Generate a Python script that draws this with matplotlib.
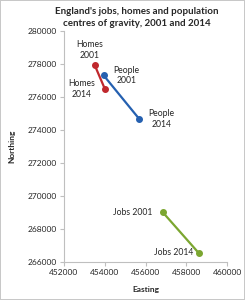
import matplotlib
matplotlib.use("Agg")
import matplotlib.pyplot as plt
from matplotlib.ticker import FormatStrFormatter

plt.rcParams['font.family'] = ['Lato', 'DejaVu Sans']

# data (easting, northing)
series_names = ["Homes", "People", "Jobs"]
years = ["2001", "2014"]
homes_e = [453500, 454000]
homes_n = [277950, 276500]
people_e = [453950, 455700]
people_n = [277300, 274650]
jobs_e = [456850, 458600]
jobs_n = [269000, 266550]
colors = ["#C0282D", "#2560B0", "#7BA630"]

x_ticks = [452000, 454000, 456000, 458000, 460000]
y_ticks = [266000, 268000, 270000, 272000, 274000, 276000, 278000, 280000]

fig = plt.figure(figsize=(2.45, 3.0), dpi=100, linewidth=1.2, edgecolor="#c8c8c8")
ax = fig.add_axes([0.261, 0.127, 0.666, 0.770])

data = [(homes_e, homes_n), (people_e, people_n), (jobs_e, jobs_n)]
for (e, n), c in zip(data, colors):
    ax.plot(e, n, color=c, lw=1.6, marker="o", ms=4, solid_capstyle="round")

fs = 6
afs = 6.2
tcol = "#262626"
# annotations: (series index, point index, label, offset px, ha)
ann = [
    (0, 0, "Homes\n2001", (-5, 15), "center"),
    (0, 1, "Homes\n2014", (-23, 0), "center"),
    (1, 0, "People\n2001", (23, 0), "center"),
    (1, 1, "People\n2014", (22, 0), "center"),
    (2, 0, "Jobs 2001", (-10, 0), "right"),
    (2, 1, "Jobs 2014", (-5, 0), "right"),
]
for si, pi, lab, off, ha in ann:
    e, n = data[si]
    ax.annotate(lab, (e[pi], n[pi]), xytext=off, textcoords="offset pixels",
                ha=ha, va="center", fontsize=afs, color=tcol, linespacing=1.25)

ax.set_xlim(x_ticks[0], x_ticks[-1])
ax.set_ylim(y_ticks[0], y_ticks[-1])
ax.set_xticks(x_ticks)
ax.set_yticks(y_ticks)
ax.xaxis.set_major_formatter(FormatStrFormatter("%d"))
ax.yaxis.set_major_formatter(FormatStrFormatter("%d"))
ax.tick_params(labelsize=fs, colors="#bfbfbf", labelcolor=tcol, length=3, width=0.8, pad=2)
for s in ["top", "right"]:
    ax.spines[s].set_visible(False)
for s in ["left", "bottom"]:
    ax.spines[s].set_color("#bfbfbf")
    ax.spines[s].set_linewidth(0.8)

ax.set_xlabel("Easting", fontsize=fs, fontweight="bold", color=tcol, labelpad=7)
ax.set_ylabel("Northing", fontsize=fs, fontweight="bold", color=tcol, labelpad=9)

fig.suptitle("England's jobs, homes and population\ncentres of gravity, 2001 and 2014",
             x=0.56, y=0.975, fontsize=7, fontweight="bold", color=tcol, linespacing=1.3)

fig.savefig("out.png", dpi=100, edgecolor=fig.get_edgecolor())
